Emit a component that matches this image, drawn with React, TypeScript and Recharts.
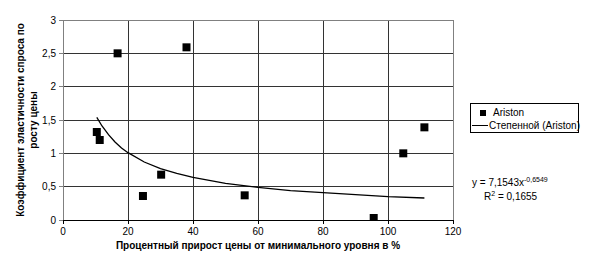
import React from 'react';
import {
  ScatterChart,
  Scatter,
  XAxis,
  YAxis,
  CartesianGrid,
  ReferenceLine,
  Label,
} from 'recharts';

const FONT = '"Liberation Sans", Arial, sans-serif';

// Observed points (Ariston)
const pricePct = [10.4, 11.3, 16.8, 38.0, 24.6, 30.2, 55.9, 95.6, 104.7, 111.2];
const elasticity = [1.32, 1.2, 2.5, 2.59, 0.36, 0.68, 0.37, 0.03, 1.0, 1.39];

// Power trendline points
const trendX = [10.4, 12, 14, 16, 18, 20, 25, 30, 35, 40, 50, 60, 70, 80, 90, 100, 111.2];
const trendY = [1.54, 1.41, 1.28, 1.17, 1.08, 1.01, 0.87, 0.77, 0.70, 0.64, 0.55, 0.49, 0.44, 0.41, 0.38, 0.35, 0.33];

const xTicks = [0, 20, 40, 60, 80, 100, 120];
const yTicks = [0, 0.5, 1, 1.5, 2, 2.5, 3];

const seriesName = 'Ariston';
const trendName = 'Степенной (Ariston)';
const xTitle = 'Процентный прирост цены от минимального уровня в %';
const yTitle1 = 'Коэффициент эластичности спроса по';
const yTitle2 = 'росту цены';
const eqMain = 'y = 7,1543x';
const eqExp = '-0,6549';
const r2Text = '= 0,1655';

const points = pricePct.map((x, i) => ({ x, y: elasticity[i] }));
const trend = trendX.map((x, i) => ({ x, y: trendY[i] }));

const fmt = (v: number) => String(v).replace('.', ',');

const YTitle = (props: any) => {
  const vb = props.viewBox || {};
  const cy = vb.y + vb.height / 2;
  return (
    <g>
      <text
        transform={`rotate(-90, 20, ${cy})`}
        x={20}
        y={cy}
        textAnchor="middle"
        dominantBaseline="central"
        fontFamily={FONT}
        fontSize={10}
        fontWeight="bold"
        fill="#000"
      >
        {yTitle1}
      </text>
      <text
        transform={`rotate(-90, 33, ${cy})`}
        x={33}
        y={cy}
        textAnchor="middle"
        dominantBaseline="central"
        fontFamily={FONT}
        fontSize={10}
        fontWeight="bold"
        fill="#000"
      >
        {yTitle2}
      </text>
    </g>
  );
};

const NoShape = () => null;

export default function App() {
  return (
    <div style={{ position: 'fixed', left: 0, top: 0, width: 589, height: 272, background: '#fff' }}>
      <ScatterChart
        width={589}
        height={272}
        margin={{ top: 20, right: 136, left: 0, bottom: 0 }}
      >
        <CartesianGrid stroke="#333" strokeWidth={1} shapeRendering="crispEdges" />
        <XAxis
          type="number"
          dataKey="x"
          domain={[0, 120]}
          ticks={xTicks}
          height={52}
          stroke="#000"
          tickSize={4}
          tick={{ fontFamily: FONT, fontSize: 10, fill: '#000' }}
          tickMargin={4}
          shapeRendering="crispEdges"
          allowDataOverflow
        >
          <Label
            value={xTitle}
            position="insideBottom"
            offset={23}
            style={{ fontFamily: FONT, fontSize: 10, fontWeight: 'bold', fill: '#000' }}
          />
        </XAxis>
        <YAxis
          type="number"
          dataKey="y"
          domain={[0, 3]}
          ticks={yTicks}
          width={63}
          stroke="#808080"
          tickSize={4}
          tickFormatter={fmt}
          tick={{ fontFamily: FONT, fontSize: 10, fill: '#000' }}
          tickMargin={3}
          shapeRendering="crispEdges"
          allowDataOverflow
        >
          <Label content={<YTitle />} />
        </YAxis>
        <ReferenceLine y={3} stroke="#808080" shapeRendering="crispEdges" />
        <ReferenceLine x={120} stroke="#808080" shapeRendering="crispEdges" />
        <Scatter
          name={trendName}
          data={trend}
          line={{ stroke: '#000', strokeWidth: 1.3 }}
          shape={NoShape as any}
          isAnimationActive={false}
        />
        <Scatter
          name={seriesName}
          data={points}
          shape="square"
          size={50}
          fill="#000"
          isAnimationActive={false}
        />
      </ScatterChart>

      {/* Legend */}
      <div
        style={{
          position: 'absolute',
          left: 470,
          top: 103,
          width: 107,
          height: 28,
          border: '1px solid #000',
          fontFamily: FONT,
          fontSize: 10,
          color: '#000',
          boxSizing: 'content-box',
        }}
      >
        <div style={{ position: 'absolute', left: 6, top: 3, display: 'flex', alignItems: 'center' }}>
          <span style={{ display: 'inline-block', width: 6, height: 6, background: '#000', marginRight: 7, marginLeft: 3 }} />
          <span>{seriesName}</span>
        </div>
        <div style={{ position: 'absolute', left: 1, top: 16, display: 'flex', alignItems: 'center', whiteSpace: 'nowrap' }}>
          <span style={{ display: 'inline-block', width: 16, height: 0, borderTop: '1.5px solid #000', marginRight: 1 }} />
          <span>{trendName}</span>
        </div>
      </div>

      {/* Trendline equation */}
      <div
        style={{
          position: 'absolute',
          left: 472,
          top: 176,
          fontFamily: FONT,
          fontSize: 10,
          color: '#000',
          whiteSpace: 'nowrap',
        }}
      >
        {eqMain}
        <sup style={{ fontSize: 7 }}>{eqExp}</sup>
      </div>
      <div
        style={{
          position: 'absolute',
          left: 484,
          top: 190,
          fontFamily: FONT,
          fontSize: 10,
          color: '#000',
          whiteSpace: 'nowrap',
        }}
      >
        R<sup style={{ fontSize: 7 }}>2</sup> {r2Text}
      </div>
    </div>
  );
}
